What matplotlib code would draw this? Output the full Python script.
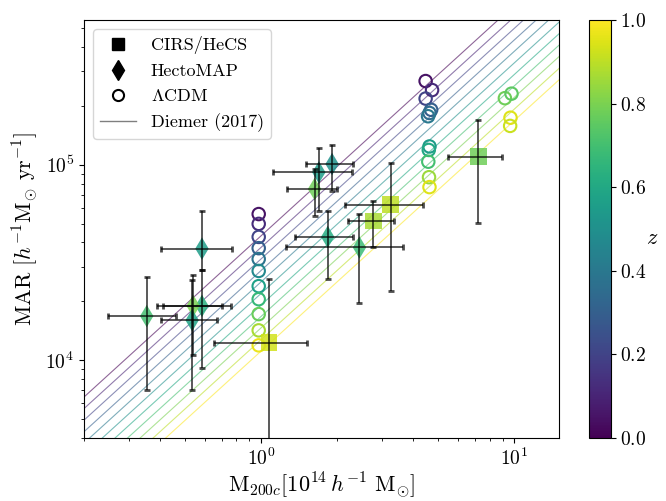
import numpy as np
import matplotlib
matplotlib.use("Agg")
import matplotlib.pyplot as plt
from matplotlib.lines import Line2D

plt.rcParams['font.family'] = 'serif'
plt.rcParams['font.serif'] = ['cmr10']
plt.rcParams['mathtext.fontset'] = 'cm'
plt.rcParams['axes.formatter.use_mathtext'] = True

# CIRS/HeCS clusters: mass [1e14 h^-1 Msun], MAR, bounds and redshift
cirs_m = [1.078, 2.78, 3.25, 7.22]
cirs_m_lo = [0.650, 2.20, 2.15, 5.46]
cirs_m_hi = [1.515, 3.36, 4.36, 8.97]
cirs_mar = [12300, 51400, 62500, 110000]
cirs_mar_lo = [1000, 37900, 22700, 50600]
cirs_mar_hi = [26100, 65500, 102000, 169000]
cirs_z = [0.93, 0.87, 0.90, 0.78]

# HectoMAP clusters
hm_m = [0.354, 0.585, 0.585, 0.540, 0.535, 1.91, 1.693, 1.628, 1.835, 2.45]
hm_m_lo = [0.248, 0.404, 0.412, 0.390, 0.404, 1.51, 1.111, 1.273, 1.36, 1.26]
hm_m_hi = [0.460, 0.770, 0.763, 0.701, 0.670, 2.32, 2.28, 1.99, 2.30, 3.64]
hm_mar = [16800, 37200, 18950, 18950, 16000, 100800, 91400, 75100, 42700, 37700]
hm_mar_lo = [7030, 28800, 9150, 10600, 7030, 73600, 58200, 54600, 25900, 19500]
hm_mar_hi = [26600, 58200, 28800, 27400, 25600, 126500, 121600, 95000, 58200, 56000]
hm_z = [0.70, 0.55, 0.63, 0.80, 0.58, 0.50, 0.55, 0.78, 0.62, 0.68]

# LCDM haloes
lcdm_m = [0.98] * 11 + [4.47, 4.74, 4.47, 4.70, 4.63, 4.57, 4.63, 4.60, 4.58, 4.61, 4.63] \
    + [9.19, 9.76, 9.67, 9.64]
lcdm_mar = [55900, 49800, 42700, 37400, 32900, 28600, 23900, 20500, 17200, 14200, 11900,
            268000, 241000, 218000, 191000, 184000, 177000, 124000, 119000, 103600, 86300, 76800,
            219000, 231000, 174000, 158000]
lcdm_z = [0.05, 0.12, 0.20, 0.30, 0.38, 0.47, 0.57, 0.67, 0.77, 0.87, 0.97,
          0.05, 0.12, 0.20, 0.30, 0.35, 0.40, 0.55, 0.60, 0.70, 0.85, 0.95,
          0.78, 0.75, 0.95, 0.92]

# Diemer (2017) model: MAR at M = 1e14 for each redshift, and log slope
diemer_z = [0.0, 0.1, 0.2, 0.3, 0.4, 0.5, 0.6, 0.7, 0.8, 0.9, 1.0]
diemer_mar1 = [43200, 37700, 32900, 28700, 25100, 21900, 19100, 16700, 14600, 12700, 11100]
diemer_slope = 1.18

cmap = plt.get_cmap('viridis')
norm = matplotlib.colors.Normalize(0, 1)

fig = plt.figure(figsize=(6.66, 5.01), dpi=100)
ax = fig.add_axes([0.126, 0.126, 0.713, 0.834])
cax = fig.add_axes([0.884, 0.126, 0.033, 0.834])

mgrid = np.logspace(np.log10(0.15), np.log10(20), 100)
for z, a in zip(diemer_z, diemer_mar1):
    ax.plot(mgrid, a * mgrid ** diemer_slope, color=cmap(norm(z)), lw=0.8, alpha=0.6, zorder=1)

ax.scatter(lcdm_m, lcdm_mar, s=80, facecolors='none', edgecolors=cmap(norm(np.array(lcdm_z))),
           linewidths=1.5, zorder=2)

def errs(v, lo, hi):
    v = np.array(v)
    return [v - np.array(lo), np.array(hi) - v]

ax.scatter(hm_m, hm_mar, c=hm_z, cmap=cmap, norm=norm, marker='d', s=130, alpha=0.85,
           linewidths=0, zorder=2)
ax.errorbar(hm_m, hm_mar, xerr=errs(hm_m, hm_m_lo, hm_m_hi), yerr=errs(hm_mar, hm_mar_lo, hm_mar_hi),
            fmt='none', ecolor='black', elinewidth=1.3, capsize=2, capthick=2, alpha=0.7, zorder=3)

ax.scatter(cirs_m, cirs_mar, c=cirs_z, cmap=cmap, norm=norm, marker='s', s=140, alpha=0.85,
           linewidths=0, zorder=2)
ax.errorbar(cirs_m, cirs_mar, xerr=errs(cirs_m, cirs_m_lo, cirs_m_hi),
            yerr=errs(cirs_mar, cirs_mar_lo, cirs_mar_hi),
            fmt='none', ecolor='black', elinewidth=1.3, capsize=2, capthick=2, alpha=0.7, zorder=3)

ax.set_xscale('log')
ax.set_yscale('log')
ax.set_xlim(0.2, 15)
ax.set_ylim(4000, 5.5e5)
ax.tick_params(labelsize=14)
ax.set_xlabel(r'M$_{200c}[10^{14}\,h^{-1}$ M$_{\odot}]$', fontsize=16, labelpad=1)
ax.set_ylabel(r'MAR [$h^{-1}$M$_{\odot}$ yr$^{-1}$]', fontsize=16)

handles = [
    Line2D([], [], marker='s', color='black', ls='none', markersize=9),
    Line2D([], [], marker='d', color='black', ls='none', markersize=10),
    Line2D([], [], marker='o', mfc='none', mec='black', ls='none', markersize=8, mew=1.5),
    Line2D([], [], color='black', alpha=0.5, lw=1),
]
ax.legend(handles, ['CIRS/HeCS', 'HectoMAP', r'$\Lambda$CDM', 'Diemer (2017)'],
          loc='upper left', fontsize=13)

sm = matplotlib.cm.ScalarMappable(norm=norm, cmap=cmap)
cb = fig.colorbar(sm, cax=cax)
cb.set_ticks([0.0, 0.2, 0.4, 0.6, 0.8, 1.0])
cb.ax.tick_params(labelsize=14)
cb.set_label(r'$z$', fontsize=16, rotation=0, labelpad=4)

fig.savefig('out.png', dpi=100)
